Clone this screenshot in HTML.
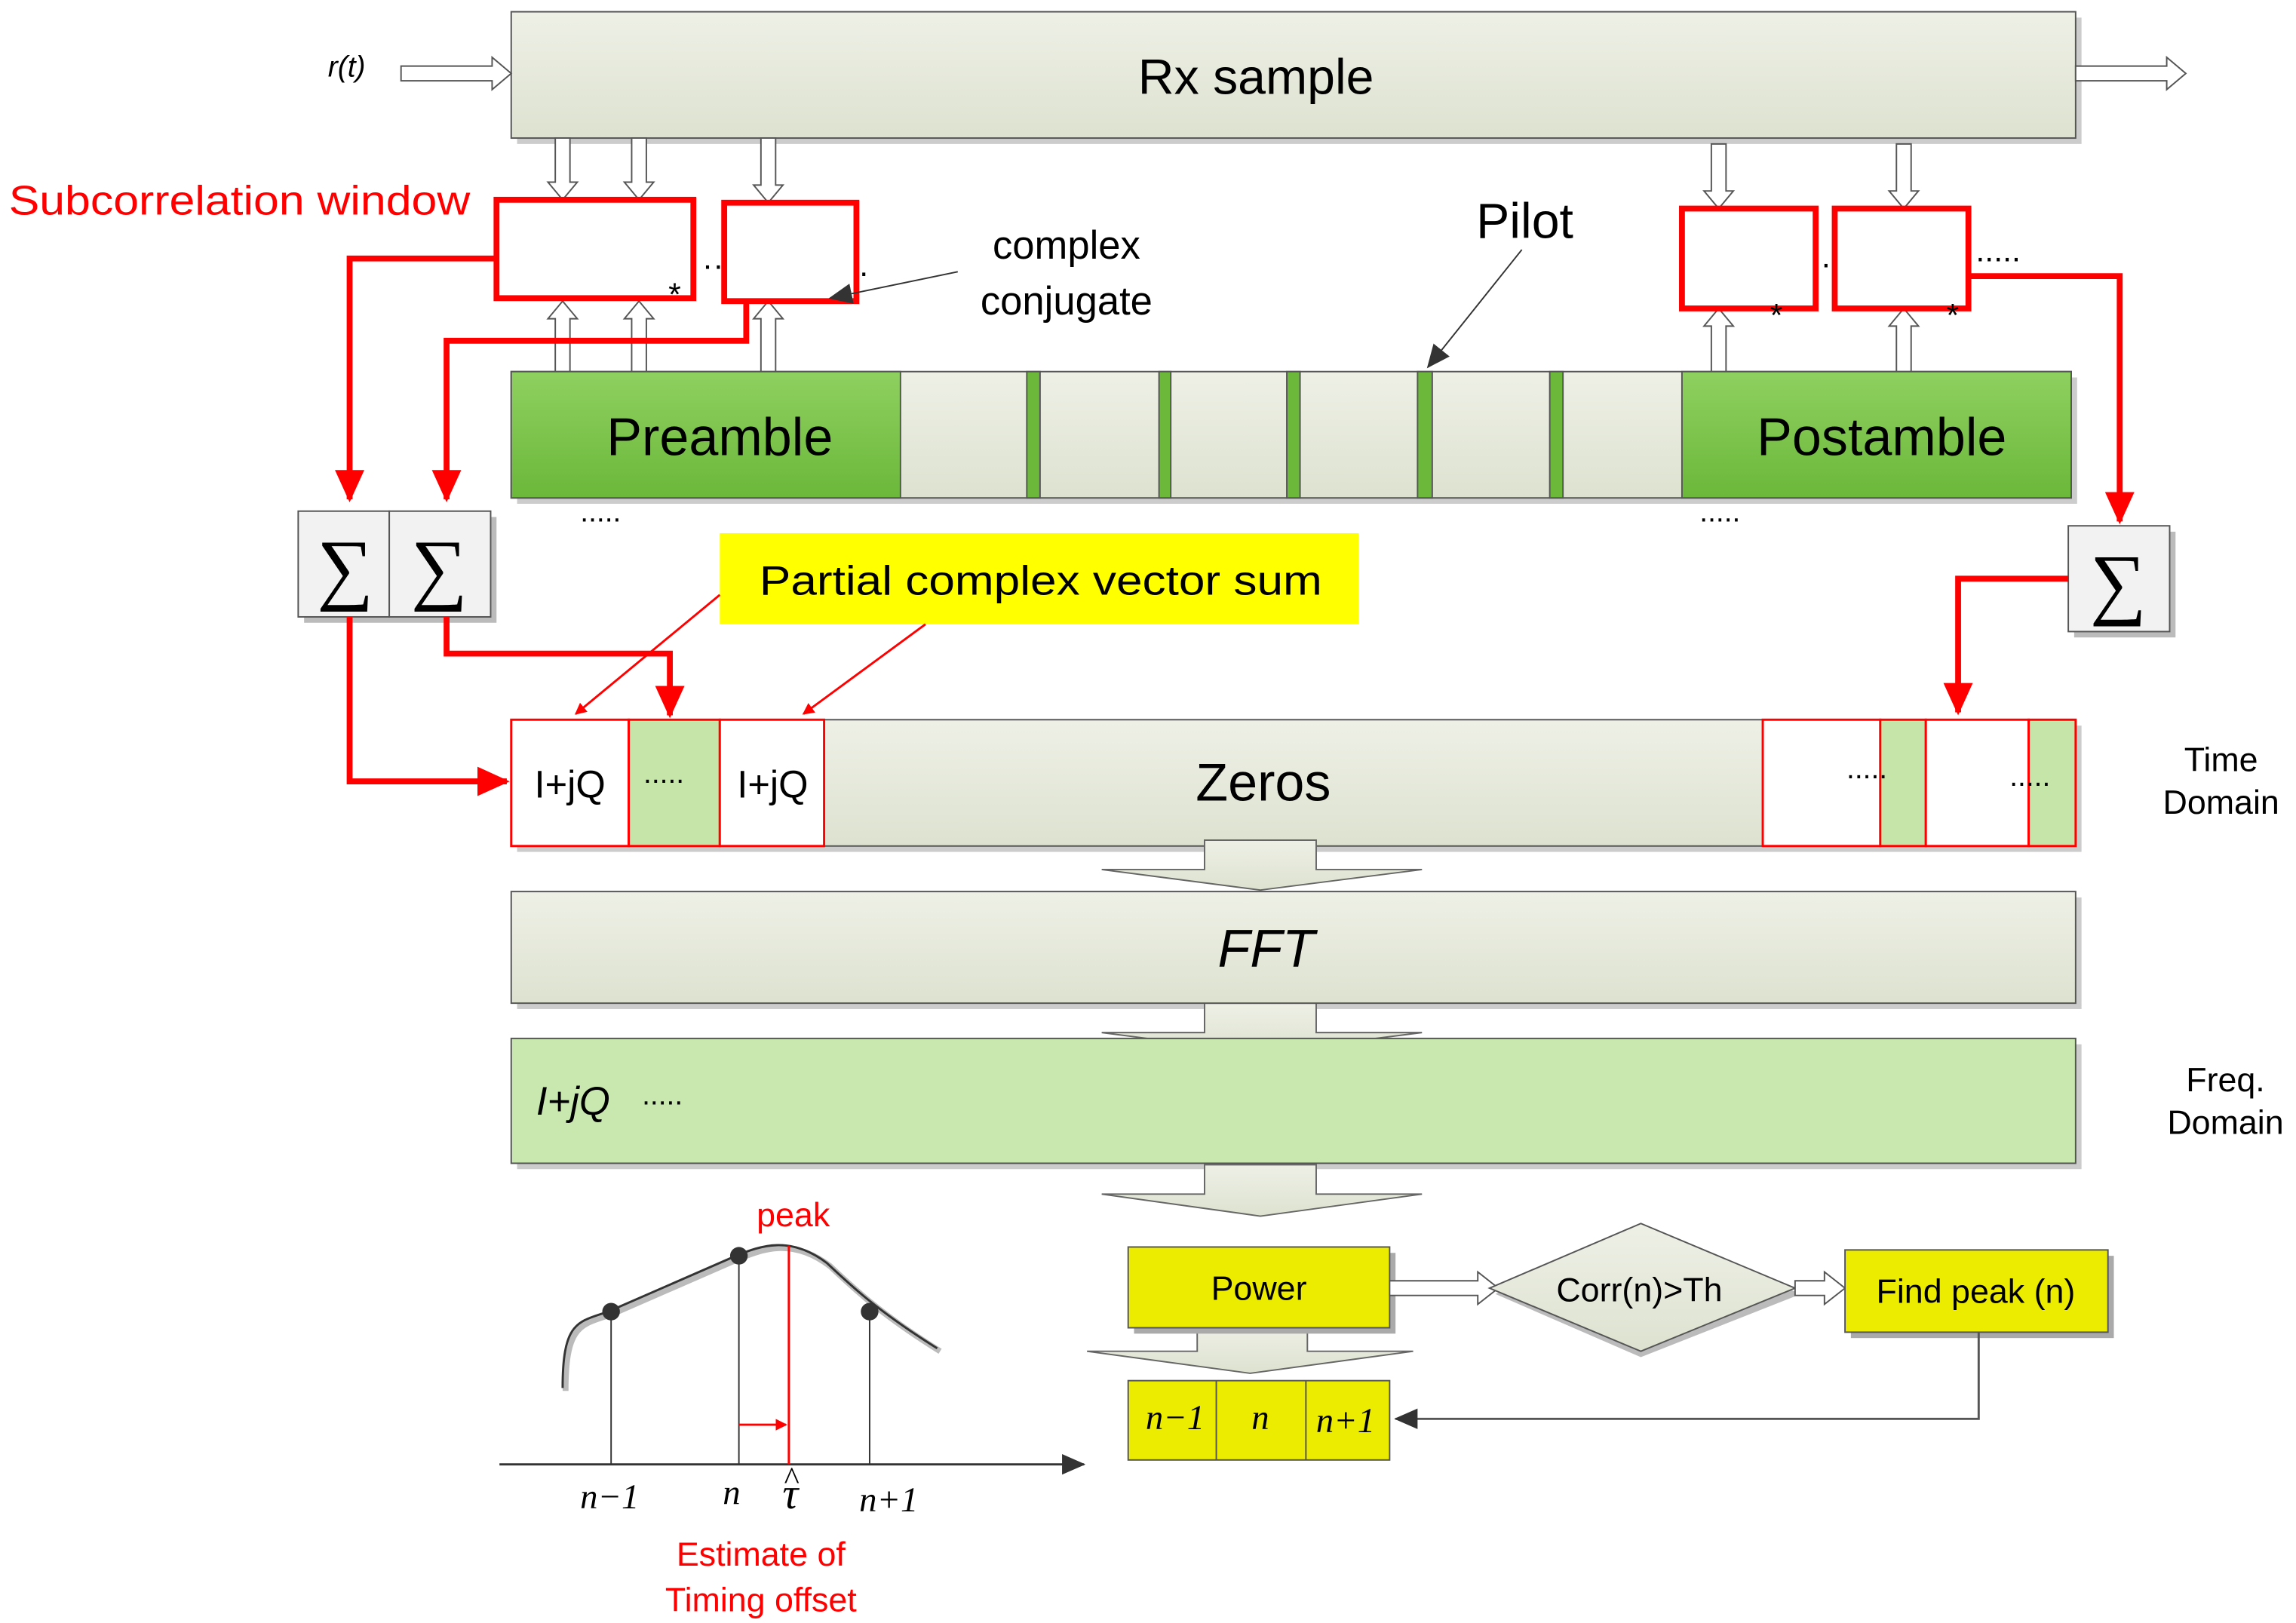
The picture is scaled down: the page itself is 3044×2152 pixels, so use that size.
<!DOCTYPE html>
<html><head><meta charset="utf-8"><style>html,body{margin:0;padding:0;background:#fff}svg{display:block}</style></head><body>
<svg width="3044" height="2152" viewBox="0 0 1563 1105" xmlns="http://www.w3.org/2000/svg" font-family="Liberation Sans, sans-serif">
<defs>
<linearGradient id="g1" x1="0" y1="0" x2="0" y2="1"><stop offset="0" stop-color="#eef0e6"/><stop offset="1" stop-color="#dde2d0"/></linearGradient>
<linearGradient id="gg" x1="0" y1="0" x2="0" y2="1"><stop offset="0" stop-color="#8fd060"/><stop offset="1" stop-color="#6bb83a"/></linearGradient>
<marker id="ra" markerWidth="8" markerHeight="8" refX="7" refY="4" orient="auto" markerUnits="userSpaceOnUse"><path d="M0,0 L8,4 L0,8z" fill="#f00"/></marker>
<marker id="rb" markerWidth="22" markerHeight="20" refX="20" refY="10" orient="auto" markerUnits="userSpaceOnUse"><path d="M0,0 L22,10 L0,20z" fill="#f00"/></marker>
<marker id="ka" markerWidth="16" markerHeight="14" refX="15" refY="7" orient="auto" markerUnits="userSpaceOnUse"><path d="M0,0 L16,7 L0,14z" fill="#333"/></marker>
</defs>
<g fill="#ccc"><rect x="352" y="12" width="1065" height="86"/><rect x="352" y="611" width="1065" height="76"/><rect x="352" y="711" width="1065" height="85"/></g>
<rect x="348" y="8" width="1065" height="86" fill="url(#g1)" stroke="#555"/>
<text x="855" y="64" font-size="34" text-anchor="middle">Rx sample</text>
<text x="236" y="52" font-size="20" font-style="italic" text-anchor="middle">r(t)</text>
<path d="M273,45 H335 V39 L348,50 L335,61 V55 H273z" fill="#fff" stroke="#555"/>
<path d="M1413,45 H1475 V39 L1488,50 L1475,61 V55 H1413z" fill="#fff" stroke="#555"/>
<text x="6" y="146" font-size="28" fill="#f00" textLength="314" lengthAdjust="spacingAndGlyphs">Subcorrelation window</text>
<g fill="#fff" stroke="#555">
<path d="M378,94 h10 v30 h5 l-10,12 l-10,-12 h5z"/><path d="M430,94 h10 v30 h5 l-10,12 l-10,-12 h5z"/><path d="M518,94 h10 v32 h5 l-10,12 l-10,-12 h5z"/>
<path d="M1165,98 h10 v32 h5 l-10,12 l-10,-12 h5z"/><path d="M1291,98 h10 v32 h5 l-10,12 l-10,-12 h5z"/>
<path d="M378,255 h10 v-38 h5 l-10,-12 l-10,12 h5z"/><path d="M430,255 h10 v-38 h5 l-10,-12 l-10,12 h5z"/><path d="M518,255 h10 v-38 h5 l-10,-12 l-10,12 h5z"/>
<path d="M1165,258 h10 v-36 h5 l-10,-12 l-10,12 h5z"/><path d="M1291,258 h10 v-36 h5 l-10,-12 l-10,12 h5z"/>
</g>
<g fill="#fff" stroke="#f00" stroke-width="4">
<rect x="338" y="136" width="134" height="67"/><rect x="493" y="138" width="90" height="67"/>
<rect x="1145" y="142" width="91" height="68"/><rect x="1249" y="142" width="91" height="68"/>
</g>
<g font-size="22"><text x="455" y="208">*</text><text x="478" y="188">··</text><text x="585" y="188">.</text><text x="1205" y="222">*</text><text x="1240" y="182">.</text><text x="1325" y="222">*</text><text x="1345" y="178">.....</text></g>
<text x="726" y="176" font-size="27" text-anchor="middle">complex</text>
<text x="726" y="214" font-size="27" text-anchor="middle">conjugate</text>
<line x1="652" y1="185" x2="565" y2="203" stroke="#333" marker-end="url(#ka)"/>
<text x="1038" y="162" font-size="34" text-anchor="middle">Pilot</text>
<line x1="1036" y1="170" x2="972" y2="250" stroke="#333" marker-end="url(#ka)"/>
<rect x="352" y="257" width="1062" height="86" fill="#ccc"/>
<rect x="348" y="253" width="1062" height="86" fill="url(#g1)" stroke="#555"/>
<rect x="348" y="253" width="265" height="86" fill="url(#gg)" stroke="#555"/>
<rect x="1145" y="253" width="265" height="86" fill="url(#gg)" stroke="#555"/>
<g fill="#6bb83a" stroke="#555"><rect x="699" y="253" width="9" height="86"/><rect x="789" y="253" width="8" height="86"/><rect x="876" y="253" width="9" height="86"/><rect x="965" y="253" width="10" height="86"/><rect x="1055" y="253" width="9" height="86"/></g>
<text x="490" y="310" font-size="36" text-anchor="middle">Preamble</text>
<text x="1281" y="310" font-size="36" text-anchor="middle">Postamble</text>
<text x="395" y="355" font-size="20">.....</text><text x="1157" y="355" font-size="20">.....</text>
<g fill="#bbb"><rect x="207" y="352" width="131" height="72"/><rect x="1412" y="362" width="69" height="72"/></g>
<g fill="#f2f2f2" stroke="#555"><rect x="203" y="348" width="62" height="72"/><rect x="265" y="348" width="69" height="72"/><rect x="1408" y="358" width="69" height="72"/></g>
<g font-size="54" text-anchor="middle" font-family="Liberation Serif, serif"><text x="235" y="405">∑</text><text x="299" y="405">∑</text><text x="1442" y="415">∑</text></g>
<g fill="none" stroke="#f00" stroke-width="4">
<path d="M338,176 H238 V340" marker-end="url(#rb)"/>
<path d="M508,205 V232 H304 V340" marker-end="url(#rb)"/>
<path d="M1340,188 H1443 V355" marker-end="url(#rb)"/>
<path d="M238,420 V532 H345" marker-end="url(#rb)"/>
<path d="M304,420 V445 H456 V487" marker-end="url(#rb)"/>
<path d="M1408,394 H1333 V485" marker-end="url(#rb)"/>
</g>
<rect x="490" y="363" width="435" height="62" fill="#ffff00"/>
<text x="517" y="405" font-size="28" textLength="383" lengthAdjust="spacingAndGlyphs">Partial complex  vector sum</text>
<line x1="490" y1="405" x2="392" y2="486" stroke="#f00" stroke-width="1.5" marker-end="url(#ra)"/>
<line x1="630" y1="425" x2="547" y2="486" stroke="#f00" stroke-width="1.5" marker-end="url(#ra)"/>
<rect x="352" y="494" width="1065" height="86" fill="#ccc"/>
<rect x="348" y="490" width="1065" height="86" fill="url(#g1)" stroke="#555"/>
<g stroke="#f00" stroke-width="1.5"><rect x="348" y="490" width="80" height="86" fill="#fff"/><rect x="428" y="490" width="62" height="86" fill="#c6e5a8"/><rect x="490" y="490" width="71" height="86" fill="#fff"/>
<rect x="1200" y="490" width="80" height="86" fill="#fff"/><rect x="1280" y="490" width="31" height="86" fill="#c6e5a8"/><rect x="1311" y="490" width="70" height="86" fill="#fff"/><rect x="1381" y="490" width="32" height="86" fill="#c6e5a8"/></g>
<g font-size="26"><text x="388" y="543" text-anchor="middle">I+jQ</text><text x="526" y="543" text-anchor="middle">I+jQ</text></g>
<g font-size="20"><text x="438" y="533">.....</text><text x="1257" y="530">.....</text><text x="1368" y="535">.....</text></g>
<text x="860" y="545" font-size="36" text-anchor="middle">Zeros</text>
<g font-size="23" text-anchor="middle"><text x="1512" y="525">Time</text><text x="1512" y="554">Domain</text><text x="1515" y="743">Freq.</text><text x="1515" y="772">Domain</text></g>
<g fill="url(#g1)" stroke="#666">
<path d="M820,572 H896 V592 H968 L858,606 L750,592 H820z"/>
<path d="M820,683 H896 V703 H968 L858,717 L750,703 H820z"/>
<path d="M820,793 H896 V813 H968 L858,828 L750,813 H820z"/>
<path d="M815,902 H890 V920 H962 L851,935 L740,920 H815z"/>
</g>
<rect x="348" y="607" width="1065" height="76" fill="url(#g1)" stroke="#555"/>
<text x="862" y="658" font-size="36" font-style="italic" text-anchor="middle">FFT</text>
<rect x="348" y="707" width="1065" height="85" fill="#c9e8b0" stroke="#555"/>
<text x="365" y="759" font-size="27" font-style="italic">I+jQ</text><text x="437" y="752" font-size="20">.....</text>
<g fill="#aaa"><rect x="772" y="853" width="178" height="55"/><rect x="1260" y="855" width="179" height="56"/></g>
<rect x="768" y="849" width="178" height="55" fill="#ecec00" stroke="#555"/>
<text x="857" y="885" font-size="23" text-anchor="middle">Power</text>
<path d="M946,872 H1006 V866 L1020,877 L1006,888 V882 H946z" fill="#fff" stroke="#555"/>
<path d="M1117,837 L1226,881 L1117,924 L1018,881z" fill="#bbb"/>
<path d="M1117,833 L1222,877 L1117,920 L1014,877z" fill="url(#g1)" stroke="#555"/>
<text x="1116" y="886" font-size="23" text-anchor="middle">Corr(n)&gt;Th</text>
<path d="M1222,872 H1242 V866 L1256,877 L1242,888 V882 H1222z" fill="#fff" stroke="#555"/>
<rect x="1256" y="851" width="179" height="56" fill="#ecec00" stroke="#555"/>
<text x="1345" y="887" font-size="23" text-anchor="middle">Find peak (n)</text>
<rect x="768" y="940" width="178" height="54" fill="#ecec00" stroke="#555"/>
<line x1="828" y1="940" x2="828" y2="994" stroke="#555"/><line x1="889" y1="940" x2="889" y2="994" stroke="#555"/>
<g font-family="Liberation Serif, serif" font-style="italic" font-size="24" text-anchor="middle"><text x="800" y="973">n−1</text><text x="858" y="973">n</text><text x="916" y="975">n+1</text></g>
<path d="M1347,907 V966 H950" fill="none" stroke="#555" stroke-width="1.5" marker-end="url(#ka)"/>
<line x1="340" y1="997" x2="738" y2="997" stroke="#333" stroke-width="1.5" marker-end="url(#ka)"/>
<path d="M385,947 C385,902 395,902 416,895 L503,857 C520,850 540,843 565,862 C582,878 600,895 640,920" fill="none" stroke="#bbb" stroke-width="4"/>
<path d="M383,945 C383,900 393,900 414,893 L501,855 C518,848 538,841 563,860 C580,876 598,893 638,918" fill="none" stroke="#333" stroke-width="1.5"/>
<g stroke="#333"><line x1="416" y1="893" x2="416" y2="997"/><line x1="503" y1="855" x2="503" y2="997"/><line x1="592" y1="893" x2="592" y2="997"/></g>
<g fill="#333"><circle cx="416" cy="893" r="6"/><circle cx="503" cy="855" r="6"/><circle cx="592" cy="893" r="6"/></g>
<line x1="537" y1="848" x2="537" y2="997" stroke="#f00" stroke-width="1.5"/>
<line x1="503" y1="970" x2="535" y2="970" stroke="#f00" stroke-width="1.5" marker-end="url(#ra)"/>
<g font-family="Liberation Serif, serif" font-style="italic" font-size="24" text-anchor="middle"><text x="415" y="1027">n−1</text><text x="498" y="1024">n</text><text x="538" y="1027" font-size="30">τ</text><text x="605" y="1029">n+1</text></g>
<text x="539" y="1014" font-size="22" text-anchor="middle" font-family="Liberation Serif, serif">^</text>
<text x="540" y="835" font-size="23" fill="#f00" text-anchor="middle">peak</text>
<text x="518" y="1066" font-size="23" fill="#f00" text-anchor="middle">Estimate of</text>
<text x="518" y="1097" font-size="23" fill="#f00" text-anchor="middle">Timing offset</text>
</svg>
</body></html>
